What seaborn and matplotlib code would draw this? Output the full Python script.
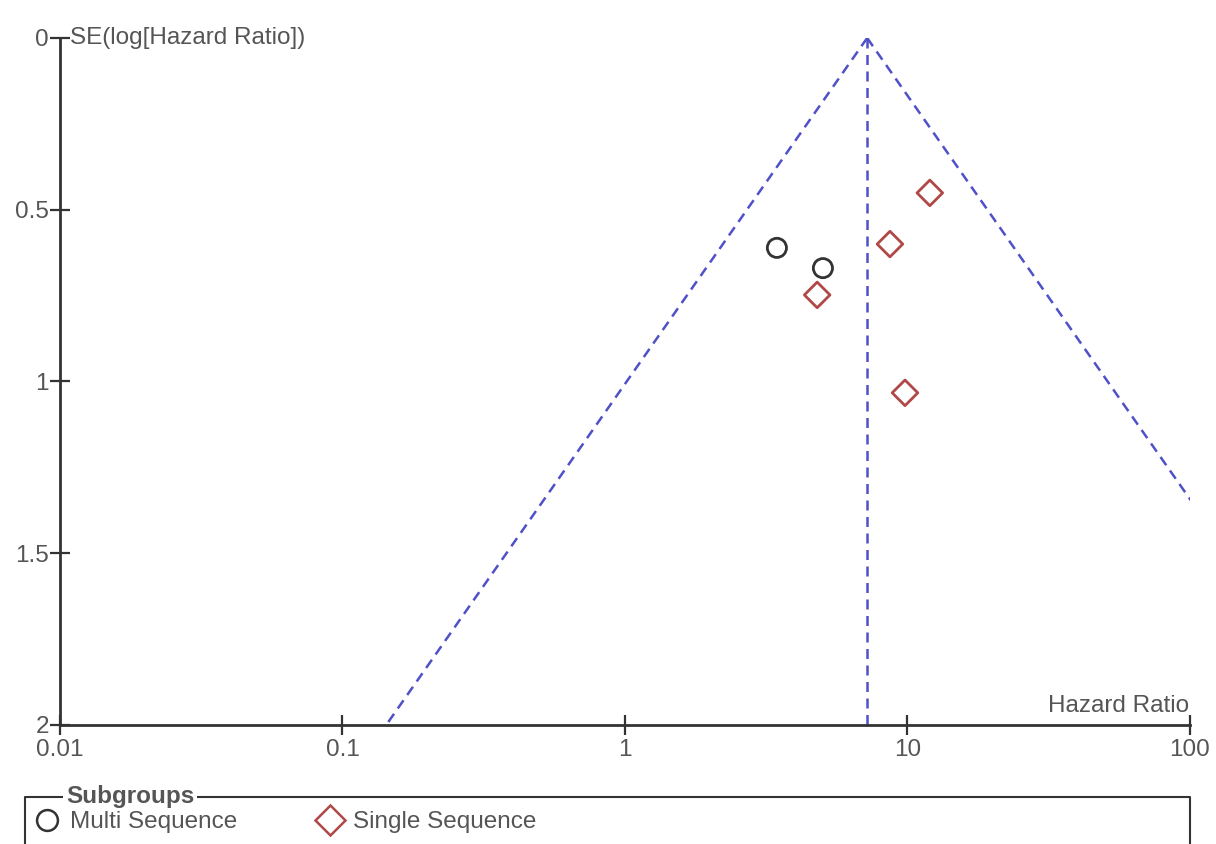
import numpy as np
import pandas as pd
import matplotlib
matplotlib.use("Agg")
import matplotlib.pyplot as plt
import seaborn as sns
from matplotlib.lines import Line2D

# ---- data ----
groups = ["Multi Sequence", "Multi Sequence",
          "Single Sequence", "Single Sequence", "Single Sequence", "Single Sequence"]
hazard_ratio = [3.45, 5.02, 4.79, 8.67, 12.0, 9.8]
se_log_hr = [0.611, 0.670, 0.748, 0.600, 0.451, 1.033]

pooled_hr = 7.2
se_max = 2.0
x_ticks = [0.01, 0.1, 1, 10, 100]
x_tick_labels = ["0.01", "0.1", "1", "10", "100"]
y_ticks = [0, 0.5, 1, 1.5, 2]
y_tick_labels = ["0", "0.5", "1", "1.5", "2"]

df = pd.DataFrame({"HR": hazard_ratio, "SE": se_log_hr, "Subgroup": groups})

sns.set_style("white")
plt.rcParams["font.family"] = ["Liberation Sans", "DejaVu Sans"]

txt_col = "#555555"
axis_col = "#333333"
funnel_col = "#5050c8"
fs = 17.5
styles = {
    "Multi Sequence": ("o", "#333333", 190),
    "Single Sequence": ("D", "#b04848", 170),
}

fig = plt.figure(figsize=(12.16, 8.44), dpi=100)
ax = fig.add_axes([0.0493, 0.141, 0.9293, 0.814])

# funnel: pseudo 95% limits around pooled estimate
se_line = np.array([0.0, se_max])
lo = np.exp(np.log(pooled_hr) - 1.96 * se_line)
hi = np.exp(np.log(pooled_hr) + 1.96 * se_line)
dash = (0, (4, 2.6))
ax.plot(lo, se_line, color=funnel_col, lw=1.8, linestyle=dash)
ax.plot(hi, se_line, color=funnel_col, lw=1.8, linestyle=dash)
ax.plot([pooled_hr, pooled_hr], [0, se_max], color=funnel_col, lw=1.8, linestyle=dash)

for name, (mk, col, size) in styles.items():
    sub = df[df["Subgroup"] == name]
    sns.scatterplot(data=sub, x="HR", y="SE", ax=ax, marker=mk, s=size,
                    facecolor="none", edgecolor=col, linewidth=2, zorder=5)

ax.set_xscale("log")
ax.set_xlim(0.01, 100)
ax.set_ylim(2, 0)
ax.set_xticks(x_ticks)
ax.set_xticklabels(x_tick_labels)
ax.xaxis.set_minor_locator(matplotlib.ticker.NullLocator())
ax.set_yticks(y_ticks)
ax.set_yticklabels(y_tick_labels)
ax.set_xlabel("")
ax.set_ylabel("")

for side in ["top", "right"]:
    ax.spines[side].set_visible(False)
for side in ["left", "bottom"]:
    ax.spines[side].set_color(axis_col)
    ax.spines[side].set_linewidth(2)
ax.tick_params(axis="both", direction="inout", length=14, width=1.6,
               bottom=True, left=True, colors=axis_col,
               labelcolor=txt_col, labelsize=fs, pad=1)
ax.tick_params(axis="x", pad=3)

ax.text(0.009, 1.0, "SE(log[Hazard Ratio])", transform=ax.transAxes,
        fontsize=fs, color=txt_col, ha="left", va="center")
ax.text(0.999, 0.012, "Hazard Ratio", transform=ax.transAxes,
        fontsize=fs, color=txt_col, ha="right", va="bottom")

# legend group box
box_l, box_r, box_t = 25 / 1216, 1190 / 1216, 1 - 797 / 844
fig.add_artist(Line2D([box_l, box_l, box_r, box_r], [0, box_t, box_t, 0],
                      transform=fig.transFigure, color=axis_col, lw=1.5))
fig.text(66 / 1216, box_t, "Subgroups", fontsize=fs, fontweight="bold",
         color=txt_col, ha="left", va="center",
         bbox=dict(facecolor="white", edgecolor="none", pad=2))

handles = [Line2D([], [], marker=styles[n][0], linestyle="none", markersize=15,
                  markerfacecolor="none", markeredgecolor=styles[n][1],
                  markeredgewidth=1.8, label=n) for n in styles]
fig.legend(handles=handles, loc="center left", bbox_to_anchor=(13 / 1216, 1 - 822 / 844),
           ncol=2, frameon=False, fontsize=fs, handletextpad=0.45,
           columnspacing=3.3, handlelength=1.0, labelcolor=txt_col)

fig.savefig("out.png", dpi=100)
